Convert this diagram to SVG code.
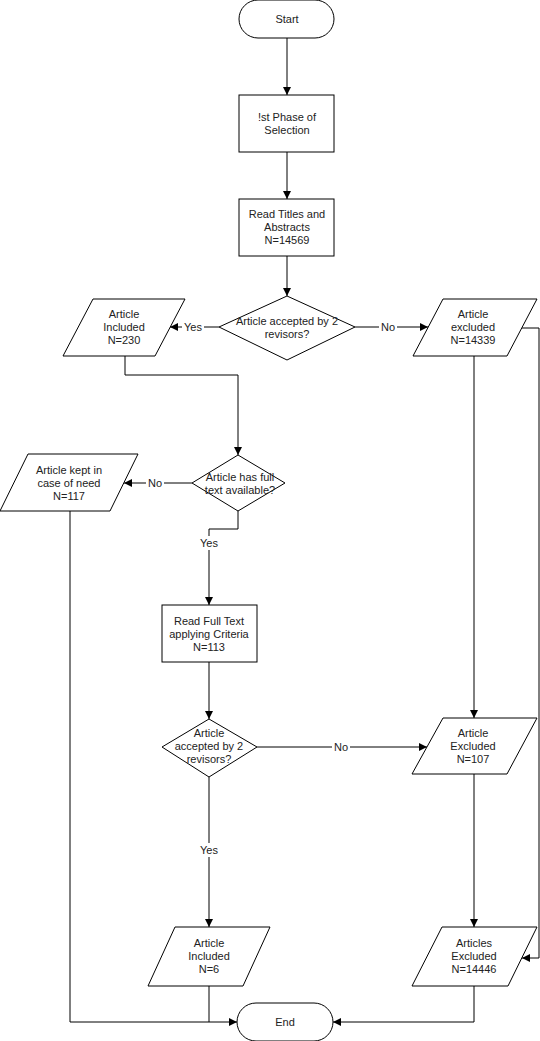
<svg xmlns="http://www.w3.org/2000/svg" width="540" height="1041" viewBox="0 0 540 1041">
<defs>
<marker id="arr" markerWidth="8" markerHeight="8" refX="8" refY="4" orient="auto" markerUnits="userSpaceOnUse">
<path d="M0,0 L8,4 L0,8 Z" fill="#000"/>
</marker>
<style>
.s{fill:#fff;stroke:#000;stroke-width:1}
.c{fill:none;stroke:#000;stroke-width:1}
.t{font-family:"Liberation Sans",Arial,sans-serif;font-size:11px;fill:#222;text-anchor:middle;dominant-baseline:central}
.lb{fill:#fff;stroke:none}
</style>
</defs>
<rect width="540" height="1041" fill="#fff"/>
<g id="connectors">
<path class="c" d="M287,38 V95" marker-end="url(#arr)"/>
<path class="c" d="M287,152 V199" marker-end="url(#arr)"/>
<path class="c" d="M287,256 V296" marker-end="url(#arr)"/>
<path class="c" d="M219,327 H170" marker-end="url(#arr)"/>
<path class="c" d="M355,327 H428" marker-end="url(#arr)"/>
<path class="c" d="M522,328 H539 V958 H522" marker-end="url(#arr)"/>
<path class="c" d="M125,356 V375 H238 V455" marker-end="url(#arr)"/>
<path class="c" d="M192,483 H124" marker-end="url(#arr)"/>
<path class="c" d="M238,511 V529 H209 V605" marker-end="url(#arr)"/>
<path class="c" d="M209,662 V719" marker-end="url(#arr)"/>
<path class="c" d="M257,747 H427" marker-end="url(#arr)"/>
<path class="c" d="M209,777 V927" marker-end="url(#arr)"/>
<path class="c" d="M474,356 V718" marker-end="url(#arr)"/>
<path class="c" d="M474,774 V927" marker-end="url(#arr)"/>
<path class="c" d="M474,986 V1022 H333" marker-end="url(#arr)"/>
<path class="c" d="M209,986 V1022"/>
<path class="c" d="M70,511 V1022 H237" marker-end="url(#arr)"/>
<rect class="lb" x="182" y="320" width="22" height="14"/>
<text class="t" x="193" y="327">Yes</text>
<rect class="lb" x="379" y="320" width="18" height="14"/>
<text class="t" x="388" y="327">No</text>
<rect class="lb" x="146" y="476" width="18" height="14"/>
<text class="t" x="155" y="483">No</text>
<rect class="lb" x="198" y="536" width="22" height="14"/>
<text class="t" x="209" y="543">Yes</text>
<rect class="lb" x="332" y="740" width="18" height="14"/>
<text class="t" x="341" y="747">No</text>
<rect class="lb" x="198" y="843" width="22" height="14"/>
<text class="t" x="209" y="850">Yes</text>
</g>
<g id="start">
<rect class="s" x="239" y="0" width="95" height="38" rx="19"/>
<text class="t" x="287" y="19">Start</text>
</g>
<g id="phase1">
<rect class="s" x="239" y="95" width="95" height="57"/>
<text class="t" x="287" y="117">!st Phase of</text>
<text class="t" x="287" y="130">Selection</text>
</g>
<g id="readTitles">
<rect class="s" x="239" y="199" width="95" height="57"/>
<text class="t" x="287" y="214">Read Titles and</text>
<text class="t" x="287" y="227">Abstracts</text>
<text class="t" x="287" y="240">N=14569</text>
</g>
<g id="decision1">
<polygon class="s" points="287,296 355,327 287,360 219,327"/>
<text class="t" x="287" y="321">Article accepted by 2</text>
<text class="t" x="287" y="334">revisors?</text>
</g>
<g id="included230">
<polygon class="s" points="93,299 185,299 155,356 63,356"/>
<text class="t" x="124" y="314">Article</text>
<text class="t" x="124" y="327">Included</text>
<text class="t" x="124" y="340">N=230</text>
</g>
<g id="excluded14339">
<polygon class="s" points="443,299 537,299 507,356 413,356"/>
<text class="t" x="473" y="314">Article</text>
<text class="t" x="473" y="327">excluded</text>
<text class="t" x="473" y="340">N=14339</text>
</g>
<g id="decision2">
<polygon class="s" points="238,455 285,483 238,511 192,483"/>
<text class="t" x="240" y="477">Article has full</text>
<text class="t" x="240" y="490">text available?</text>
</g>
<g id="kept117">
<polygon class="s" points="28,454 138,454 110,511 0,511"/>
<text class="t" x="69" y="470">Article kept in</text>
<text class="t" x="69" y="483">case of need</text>
<text class="t" x="69" y="496">N=117</text>
</g>
<g id="readFull">
<rect class="s" x="162" y="605" width="95" height="57"/>
<text class="t" x="209" y="621">Read Full Text</text>
<text class="t" x="209" y="634">applying Criteria</text>
<text class="t" x="209" y="647">N=113</text>
</g>
<g id="decision3">
<polygon class="s" points="209,719 257,747 209,777 162,747"/>
<text class="t" x="209" y="733">Article</text>
<text class="t" x="209" y="746">accepted by 2</text>
<text class="t" x="209" y="759">revisors?</text>
</g>
<g id="excluded107">
<polygon class="s" points="443,718 537,718 507,774 412,774"/>
<text class="t" x="473" y="733">Article</text>
<text class="t" x="473" y="746">Excluded</text>
<text class="t" x="473" y="759">N=107</text>
</g>
<g id="included6">
<polygon class="s" points="175,927 270,927 243,986 148,986"/>
<text class="t" x="209" y="943">Article</text>
<text class="t" x="209" y="956">Included</text>
<text class="t" x="209" y="969">N=6</text>
</g>
<g id="excluded14446">
<polygon class="s" points="442,927 537,927 508,986 412,986"/>
<text class="t" x="474" y="943">Articles</text>
<text class="t" x="474" y="956">Excluded</text>
<text class="t" x="474" y="969">N=14446</text>
</g>
<g id="end">
<rect class="s" x="237" y="1003" width="96" height="38" rx="19"/>
<text class="t" x="285" y="1022">End</text>
</g>
</svg>
